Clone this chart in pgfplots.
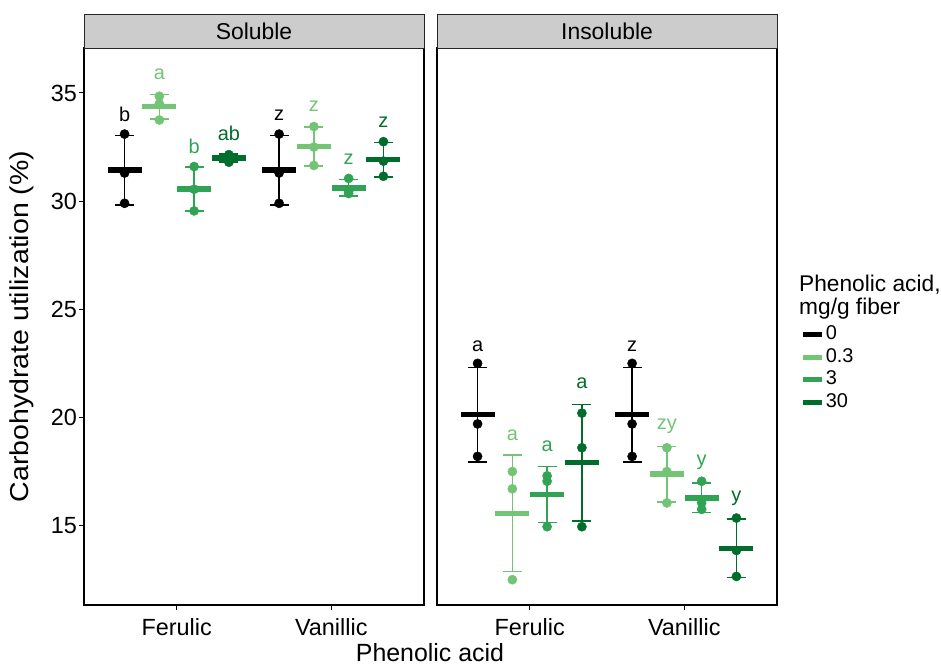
\documentclass[border=0pt]{standalone}
\usepackage{pgfplots}
\pgfplotsset{compat=1.18}
\usepackage{fontspec}
\setmainfont{Liberation Sans}
\definecolor{g0}{HTML}{000000}
\definecolor{g1}{HTML}{74C476}
\definecolor{g2}{HTML}{31A354}
\definecolor{g3}{HTML}{006D2C}
\definecolor{stripgray}{HTML}{CCCCCC}

\pgfplotsset{
  panel/.style={
    anchor=south west,
    scale only axis, width=340bp, height=557bp,
    xmin=0.4, xmax=2.6, ymin=11.33, ymax=37.08,
    xtick={1,2}, xticklabels={Ferulic,Vanillic},
    tick align=outside, tick pos=left, major tick length=5bp,
    every tick/.style={black, line width=1bp},
    axis line style={line width=1.4bp},
    tick label style={font=\fontsize{23.5}{27}\selectfont},
    yticklabel style={inner sep=2bp},
    xticklabel style={yshift=-5bp},
    /pgf/number format/assume math mode=true,
    unbounded coords=jump,
    clip=false,
  },
  whisk/.style={forget plot, line width=1.6bp, mark=none},
  caps/.style={only marks, forget plot, mark=-, mark size=9.5bp, mark options={line width=1.6bp, solid}},
  meanbar/.style={only marks, forget plot, mark=-, mark size=17bp, mark options={line width=5.5bp, solid}},
  pts/.style={only marks, forget plot, mark=*, mark size=4.6bp},
  lab/.style={only marks, forget plot, mark=text, text mark={},
    nodes near coords, point meta=explicit symbolic,
    nodes near coords style={anchor=center, font=\fontsize{20}{24}\selectfont}},
}

\begin{document}
\begin{tikzpicture}
\useasboundingbox (0,0) rectangle (941bp,666bp);

% ---------------- Soluble ----------------
\begin{axis}[panel, at={(84bp,61bp)}, ytick={15,20,25,30,35}]
% whiskers (mean - sd to mean + sd)
\addplot[whisk, g0] table {
0.6625 29.829
0.6625 33.037
nan nan
1.6625 29.829
1.6625 33.037
};
\addplot[whisk, g1] table {
0.8875 33.805
0.8875 34.929
nan nan
1.8875 31.633
1.8875 33.433
};
\addplot[whisk, g2] table {
1.1125 29.542
1.1125 31.592
nan nan
2.1125 30.238
2.1125 30.996
};
\addplot[whisk, g3] table {
1.3375 31.820
1.3375 32.180
nan nan
2.3375 31.115
2.3375 32.719
};
\addplot[caps, g0] table {
0.6625 29.829
0.6625 33.037
1.6625 29.829
1.6625 33.037
};
\addplot[caps, g1] table {
0.8875 33.805
0.8875 34.929
1.8875 31.633
1.8875 33.433
};
\addplot[caps, g2] table {
1.1125 29.542
1.1125 31.592
2.1125 30.238
2.1125 30.996
};
\addplot[caps, g3] table {
1.3375 31.820
1.3375 32.180
2.3375 31.115
2.3375 32.719
};
% means
\addplot[meanbar, g0] table {
0.6625 31.433
1.6625 31.433
};
\addplot[meanbar, g1] table {
0.8875 34.367
1.8875 32.533
};
\addplot[meanbar, g2] table {
1.1125 30.567
2.1125 30.617
};
\addplot[meanbar, g3] table {
1.3375 32.000
2.3375 31.917
};
% replicates
\addplot[pts, g0] table {
0.6625 33.10
0.6625 31.30
0.6625 29.90
1.6625 33.10
1.6625 31.30
1.6625 29.90
};
\addplot[pts, g1] table {
0.8875 34.85
0.8875 34.50
0.8875 33.75
1.8875 33.45
1.8875 32.50
1.8875 31.65
};
\addplot[pts, g2] table {
1.1125 31.60
1.1125 30.55
1.1125 29.55
2.1125 31.05
2.1125 30.45
2.1125 30.35
};
\addplot[pts, g3] table {
1.3375 32.15
1.3375 32.05
1.3375 31.80
2.3375 32.75
2.3375 31.85
2.3375 31.15
};
% letters
\addplot[lab, nodes near coords style={color=g0}] table[x=x, y=y, meta=l] {
x y l
0.6625 33.99 b
1.6625 33.99 z
};
\addplot[lab, nodes near coords style={color=g1}] table[x=x, y=y, meta=l] {
x y l
0.8875 35.88 a
1.8875 34.38 z
};
\addplot[lab, nodes near coords style={color=g2}] table[x=x, y=y, meta=l] {
x y l
1.1125 32.54 b
2.1125 31.95 z
};
\addplot[lab, nodes near coords style={color=g3}] table[x=x, y=y, meta=l] {
x y l
1.3375 33.13 ab
2.3375 33.67 z
};
\draw[fill=stripgray, draw=black!85, line width=0.8bp] (rel axis cs:0,1) rectangle ([yshift=34bp]rel axis cs:1,1);
\node[font=\fontsize{23}{27}\selectfont] at ([yshift=17bp]rel axis cs:0.5,1) {Soluble};
\end{axis}

% ---------------- Insoluble ----------------
\begin{axis}[panel, at={(437bp,61bp)}, ytick=\empty,
  legend style={at={(1.068,0.5040)}, anchor=north west, draw=none, fill=none,
    inner sep=0pt, font=\fontsize{20}{24}\selectfont, row sep=1.5bp,
    nodes={inner sep=1.5bp, text height=14bp, text depth=4bp},
    /tikz/every even column/.append style={column sep=4bp}},
  legend cell align=left]
\addlegendimage{legend image code/.code={\draw[g0, line width=5bp] (0bp,0bp) -- (19bp,0bp);}}
\addlegendentry{0}
\addlegendimage{legend image code/.code={\draw[g1, line width=5bp] (0bp,0bp) -- (19bp,0bp);}}
\addlegendentry{0.3}
\addlegendimage{legend image code/.code={\draw[g2, line width=5bp] (0bp,0bp) -- (19bp,0bp);}}
\addlegendentry{3}
\addlegendimage{legend image code/.code={\draw[g3, line width=5bp] (0bp,0bp) -- (19bp,0bp);}}
\addlegendentry{30}
% whiskers
\addplot[whisk, g0] table {
0.6625 17.951
0.6625 22.315
nan nan
1.6625 17.951
1.6625 22.315
};
\addplot[whisk, g1] table {
0.8875 12.881
0.8875 18.253
nan nan
1.8875 16.104
1.8875 18.662
};
\addplot[whisk, g2] table {
1.1125 15.142
1.1125 17.724
nan nan
2.1125 15.603
2.1125 16.963
};
\addplot[whisk, g3] table {
1.3375 15.226
1.3375 20.608
nan nan
2.3375 12.597
2.3375 15.303
};
\addplot[caps, g0] table {
0.6625 17.951
0.6625 22.315
1.6625 17.951
1.6625 22.315
};
\addplot[caps, g1] table {
0.8875 12.881
0.8875 18.253
1.8875 16.104
1.8875 18.662
};
\addplot[caps, g2] table {
1.1125 15.142
1.1125 17.724
2.1125 15.603
2.1125 16.963
};
\addplot[caps, g3] table {
1.3375 15.226
1.3375 20.608
2.3375 12.597
2.3375 15.303
};
% means
\addplot[meanbar, g0] table {
0.6625 20.133
1.6625 20.133
};
\addplot[meanbar, g1] table {
0.8875 15.567
1.8875 17.383
};
\addplot[meanbar, g2] table {
1.1125 16.433
2.1125 16.283
};
\addplot[meanbar, g3] table {
1.3375 17.917
2.3375 13.950
};
% replicates
\addplot[pts, g0] table {
0.6625 22.50
0.6625 19.70
0.6625 18.20
1.6625 22.50
1.6625 19.70
1.6625 18.20
};
\addplot[pts, g1] table {
0.8875 17.50
0.8875 16.70
0.8875 12.50
1.8875 18.60
1.8875 17.50
1.8875 16.05
};
\addplot[pts, g2] table {
1.1125 17.30
1.1125 17.05
1.1125 14.95
2.1125 17.05
2.1125 16.05
2.1125 15.75
};
\addplot[pts, g3] table {
1.3375 20.20
1.3375 18.60
1.3375 14.95
2.3375 15.35
2.3375 13.85
2.3375 12.65
};
% letters
\addplot[lab, nodes near coords style={color=g0}] table[x=x, y=y, meta=l] {
x y l
0.6625 23.27 a
1.6625 23.27 z
};
\addplot[lab, nodes near coords style={color=g1}] table[x=x, y=y, meta=l] {
x y l
0.8875 19.20 a
1.8875 19.61 zy
};
\addplot[lab, nodes near coords style={color=g2}] table[x=x, y=y, meta=l] {
x y l
1.1125 18.67 a
2.1125 17.91 y
};
\addplot[lab, nodes near coords style={color=g3}] table[x=x, y=y, meta=l] {
x y l
1.3375 21.56 a
2.3375 16.25 y
};
\draw[fill=stripgray, draw=black!85, line width=0.8bp] (rel axis cs:0,1) rectangle ([yshift=34bp]rel axis cs:1,1);
\node[font=\fontsize{23}{27}\selectfont] at ([yshift=17bp]rel axis cs:0.5,1) {Insoluble};
\end{axis}

% legend title and axis titles
\node[anchor=base west, font=\fontsize{22.8}{26}\selectfont, inner sep=0pt] at (799bp,374.3bp) {Phenolic acid,};
\node[anchor=base west, font=\fontsize{22.8}{26}\selectfont, inner sep=0pt] at (799bp,351bp) {mg/g fiber};
\node[rotate=90, xscale=1.1, font=\fontsize{26}{30}\selectfont, inner sep=0pt] at (22bp,339.5bp) {Carbohydrate utilization (\%)};
\node[anchor=base, font=\fontsize{25}{30}\selectfont, inner sep=0pt] at (430bp,5bp) {Phenolic acid};
\end{tikzpicture}
\end{document}
